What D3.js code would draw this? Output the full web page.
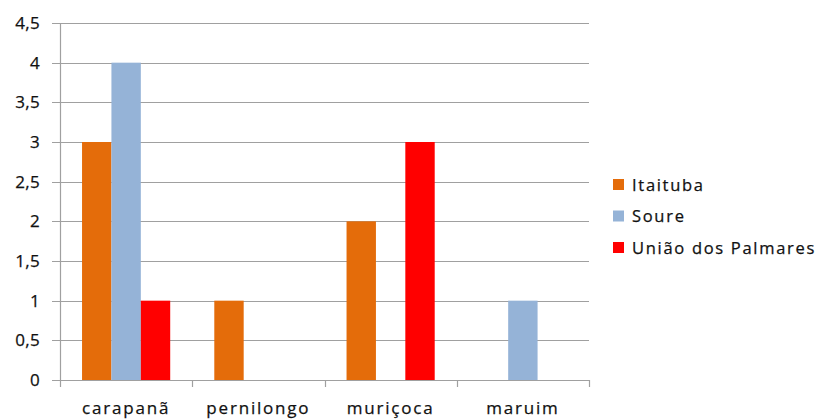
<!DOCTYPE html>
<html>
<head>
<meta charset="utf-8">
<script src="https://cdn.jsdelivr.net/npm/d3@7"></script>
<style>
  body { margin: 0; background: #fff; }
  text { font-family: "Open Sans", sans-serif; fill: #111; stroke: #111; stroke-width: 0.25px; }
</style>
</head>
<body>
<svg id="chart" width="818" height="419"></svg>
<script>
// categories and series
var categories = ["carapanã", "pernilongo", "muriçoca", "maruim"];
var seriesNames = ["Itaituba", "Soure", "União dos Palmares"];
var itaituba = [3, 1, 2, 0];
var soure = [4, 0, 0, 1];
var uniao = [1, 0, 3, 0];
var colors = ["#E46C0A", "#95B3D7", "#FF0000"];
var yTicks = [0, 0.5, 1, 1.5, 2, 2.5, 3, 3.5, 4, 4.5];

var values = [itaituba, soure, uniao];

var svg = d3.select("#chart");

var margin_l = 60, margin_t = 23;
var plot_w = 529, plot_h = 357;

var g = svg.append("g").attr("transform", "translate(" + margin_l + "," + margin_t + ")");

var x = d3.scaleBand()
    .domain(categories)
    .range([0, plot_w])
    .padding(0);

// gap width 150% -> 0.75 bar on each side of the group
var xs = d3.scaleBand()
    .domain(seriesNames)
    .range([0, x.bandwidth()])
    .paddingInner(0)
    .paddingOuter(0.75);

var y = d3.scaleLinear()
    .domain([0, 4.5])
    .range([plot_h, 0]);

// gridlines
g.selectAll(".grid")
  .data(yTicks)
  .enter().append("line")
    .attr("x1", -8)
    .attr("x2", plot_w)
    .attr("y1", function(d) { return Math.round(y(d)) + 0.5; })
    .attr("y2", function(d) { return Math.round(y(d)) + 0.5; })
    .attr("stroke", "#a0a0a0")
    .attr("stroke-width", 1.2);

// y tick labels
g.selectAll(".ylab")
  .data(yTicks)
  .enter().append("text")
    .attr("x", -20)
    .attr("y", function(d) { return y(d); })
    .attr("dy", "0.36em")
    .attr("text-anchor", "end")
    .style("font-size", "17px")
    .style("letter-spacing", "0.3px")
    .text(function(d) { return String(d).replace(".", ","); });

// bars
var bar = g.selectAll(".cat")
  .data(categories)
  .enter().append("g")
    .attr("transform", function(d) { return "translate(" + x(d) + ",0)"; });

bar.selectAll("rect")
  .data(function(d, i) {
    return seriesNames.map(function(s, j) { return {s: s, v: values[j][i], c: colors[j]}; });
  })
  .enter().append("rect")
    .attr("x", function(d) { return xs(d.s); })
    .attr("width", xs.bandwidth())
    .attr("y", function(d) { return y(d.v); })
    .attr("height", function(d) { return plot_h - y(d.v); })
    .attr("fill", function(d) { return d.c; });

// y axis line
g.append("line")
  .attr("x1", 0.5).attr("x2", 0.5)
  .attr("y1", 0).attr("y2", plot_h)
  .attr("stroke", "#a0a0a0")
  .attr("stroke-width", 1.2);

// x axis ticks between categories
var edges = categories.map(function(c) { return x(c); }).concat([plot_w]);
g.selectAll(".xtick")
  .data(edges)
  .enter().append("line")
    .attr("x1", function(d) { return Math.round(d) + 0.5; })
    .attr("x2", function(d) { return Math.round(d) + 0.5; })
    .attr("y1", plot_h)
    .attr("y2", plot_h + 7)
    .attr("stroke", "#a0a0a0")
    .attr("stroke-width", 1.2);

// x labels
g.selectAll(".xlab")
  .data(categories)
  .enter().append("text")
    .attr("x", function(d) { return x(d) + x.bandwidth() / 2; })
    .attr("y", plot_h + 34)
    .attr("text-anchor", "middle")
    .style("font-size", "17px")
    .style("letter-spacing", "1.8px")
    .text(function(d) { return d; });

// legend
var legend = svg.append("g").attr("transform", "translate(613,185)");
var item = legend.selectAll(".item")
  .data(seriesNames)
  .enter().append("g")
    .attr("transform", function(d, i) { return "translate(0," + (i * 31.5) + ")"; });

item.append("rect")
  .attr("x", 0).attr("y", -6)
  .attr("width", 11).attr("height", 11)
  .attr("fill", function(d, i) { return colors[i]; });

item.append("text")
  .attr("x", 19)
  .attr("dy", "0.36em")
  .style("font-size", "16.5px")
  .style("letter-spacing", "1.7px")
  .text(function(d) { return d; });
</script>
</body>
</html>
